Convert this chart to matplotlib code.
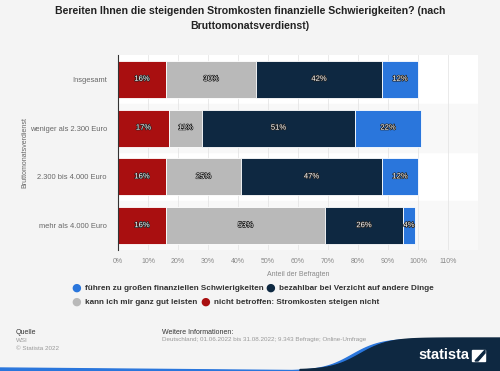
import numpy as np
import matplotlib.pyplot as plt
import matplotlib.patheffects as pe
from matplotlib.patches import Polygon, Rectangle

plt.rcParams['font.family'] = ['Liberation Sans', 'DejaVu Sans']

categories = ['Insgesamt', 'weniger als 2.300 Euro', '2.300 bis 4.000 Euro', 'mehr als 4.000 Euro']
nicht_betroffen = [16, 17, 16, 16]
gut_leisten = [30, 11, 25, 53]
verzicht = [42, 51, 47, 26]
schwierigkeiten = [12, 22, 12, 4]
series_names = ['nicht betroffen: Stromkosten steigen nicht', 'kann ich mir ganz gut leisten',
                'bezahlbar bei Verzicht auf andere Dinge', 'führen zu großen finanziellen Schwierigkeiten']
xticks = list(range(0, 111, 10))

colors = ['#a90f10', '#b9b9b9', '#0e2841', '#2a76dc']
bg = '#f4f4f4'

fig = plt.figure(figsize=(5, 3.71), dpi=100, facecolor=bg)
ax = fig.add_axes([0.236, 0.326, 0.72, 0.526])
ax.set_facecolor('white')

y = np.arange(len(categories))
left = np.zeros(len(categories))
stroke = [pe.withStroke(linewidth=1.0, foreground='#222222')]
for vals, c in zip([nicht_betroffen, gut_leisten, verzicht, schwierigkeiten], colors):
    ax.barh(y, vals, left=left, height=0.76, color=c, edgecolor='white', linewidth=0.6, zorder=3)
    for yi, l, v in zip(y, left, vals):
        ax.text(l + v / 2, yi, f'{v}%', ha='center', va='center', fontsize=5.5,
                color='white', path_effects=stroke, zorder=4)
    left += np.array(vals)

# alternating light row bands
for yi in y:
    if yi % 2 == 1:
        ax.axhspan(yi - 0.5, yi + 0.5, color='#f8f8f8', zorder=0)

ax.set_xlim(0, 120)
ax.set_ylim(3.5, -0.5)
ax.set_xticks(xticks)
ax.set_xticklabels([f'{t}%' for t in xticks], fontsize=5, color='#888888')
ax.set_yticks(y)
ax.set_yticklabels(categories, fontsize=5.4, color='#666666')
ax.tick_params(axis='both', length=0, pad=6)
ax.tick_params(axis='y', pad=8)
ax.grid(axis='x', color='#e6e6e6', linewidth=0.6, zorder=1)
for s in ['top', 'right', 'bottom']:
    ax.spines[s].set_visible(False)
ax.spines['left'].set_color('#333333')
ax.spines['left'].set_linewidth(0.8)
ax.spines['left'].set_zorder(6)
ax.set_xlabel('Anteil der Befragten', fontsize=5, color='#888888', labelpad=4)
ax.set_ylabel('Bruttomonatsverdienst', fontsize=5, color='#666666')
ax.yaxis.set_label_coords((28 - 118) / 360, 0.5)

fig.text(0.5, 0.970, 'Bereiten Ihnen die steigenden Stromkosten finanzielle Schwierigkeiten? (nach',
         ha='center', va='center', fontsize=7.6, fontweight='bold', color='#222222')
fig.text(0.5, 0.930, 'Bruttomonatsverdienst)', ha='center', va='center', fontsize=7.6,
         fontweight='bold', color='#222222')

# legend
legend_items = [(76, 288, colors[3], series_names[3]), (270, 288, colors[2], series_names[2]),
                (76, 302, colors[1], series_names[1]), (205, 302, colors[0], series_names[0])]
for px, py, c, name in legend_items:
    fig.text(px / 500, 1 - py / 371, '\u25cf', ha='center', va='center', fontsize=8, color=c,
             family='DejaVu Sans')
    fig.text((px + 9) / 500, 1 - py / 371, name, ha='left', va='center', fontsize=5.85,
             fontweight='bold', color='#333333')

# footer
fig.text(16 / 500, 1 - 332 / 371, 'Quelle', fontsize=5, color='#333333', va='center')
fig.text(16 / 500, 1 - 340 / 371, 'WSI', fontsize=4.5, color='#999999', va='center')
fig.text(16 / 500, 1 - 348 / 371, '© Statista 2022', fontsize=4.5, color='#999999', va='center')
fig.text(162 / 500, 1 - 332 / 371, 'Weitere Informationen:', fontsize=5, color='#333333', va='center')
fig.text(162 / 500, 1 - 340 / 371, 'Deutschland; 01.06.2022 bis 31.08.2022; 9.343 Befragte; Online-Umfrage',
         fontsize=4.5, color='#999999', va='center')

# statista badge
t = np.linspace(0, 1, 60)
wx = 300 + t * 200
wy = 371 - (1 + 32 / (1 + np.exp(-(t - 0.3) * 14)))
blue = np.column_stack([np.concatenate([[0, 0], wx - 8, [500]]) / 500,
                        1 - np.concatenate([[371, 368], wy + 1, [371]]) / 371])
fig.patches.append(Polygon(blue, closed=True, transform=fig.transFigure, color='#2a76dc', zorder=5))
navy = np.column_stack([np.concatenate([wx, [500, 300]]) / 500,
                        1 - np.concatenate([wy, [371, 371]]) / 371])
fig.patches.append(Polygon(navy, closed=True, transform=fig.transFigure, color='#0e2841', zorder=6))
fig.text(469 / 500, 1 - 355 / 371, 'statista', ha='right', va='center', fontsize=10.5,
         fontweight='bold', color='white', zorder=7)
fig.patches.append(Rectangle((472 / 500, 1 - 361 / 371), 13 / 500, 11 / 371,
                             transform=fig.transFigure, color='white', zorder=7))
fig.patches.append(Polygon([[475 / 500, 1 - 361 / 371], [485 / 500, 1 - 350 / 371],
                            [485 / 500, 1 - 353 / 371], [478 / 500, 1 - 361 / 371]],
                           closed=True, transform=fig.transFigure, color='#0e2841', zorder=8))

fig.savefig('out.png', dpi=100, facecolor=bg)
